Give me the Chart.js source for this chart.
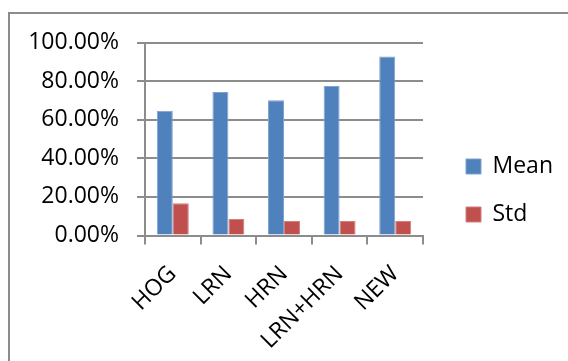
<!DOCTYPE html>
<html>
<head>
<meta charset="utf-8">
<script src="https://cdn.jsdelivr.net/npm/chart.js@4.4.1/dist/chart.umd.min.js"></script>
<style>
  html, body { margin: 0; padding: 0; width: 568px; height: 361px; overflow: hidden; background: #fff; }
  #frame { position: absolute; left: 8px; top: 12px; width: 700px; height: 500px; border: 2px solid #8c8c8c; }
  #wrap { position: absolute; left: 0; top: 0; width: 568px; height: 361px; }
</style>
</head>
<body>
<div id="frame"></div>
<div id="wrap"><canvas id="chart" width="568" height="361"></canvas></div>
<script>
// Detection rate per method (percent)
const categories = ['HOG', 'LRN', 'HRN', 'LRN+HRN', 'NEW'];
const meanValues = [64.6, 74.4, 70.1, 77.4, 92.7];
const stdValues  = [16.7, 8.6, 7.5, 7.5, 7.5];
const seriesNames = ['Mean', 'Std'];

const FONT = { family: "'Open Sans', sans-serif", size: 23 };
const GRID = '#8c8c8c';

// empty spacer axes that only reserve room around the plot
const spacer = (position, size) => ({
  type: 'linear', position, display: true,
  grid: { display: false, drawTicks: false },
  border: { display: false },
  ticks: { display: false },
  afterFit(s) { if (s.isHorizontal()) s.height = size; else s.width = size; }
});

new Chart(document.getElementById('chart'), {
  type: 'bar',
  data: {
    labels: categories,
    datasets: [
      { label: seriesNames[0], data: meanValues, backgroundColor: '#4f81bd',
        borderColor: '#7ea2d2', borderWidth: 1, borderSkipped: 'bottom' },
      { label: seriesNames[1], data: stdValues, backgroundColor: '#c0504d',
        borderColor: '#d27f7d', borderWidth: 1, borderSkipped: 'bottom' }
    ]
  },
  options: {
    responsive: false,
    animation: false,
    devicePixelRatio: 1,
    layout: { padding: { left: 0, top: 0, right: 5, bottom: 0 } },
    datasets: { bar: { categoryPercentage: 0.575, barPercentage: 1 } },
    plugins: {
      tooltip: { enabled: false },
      legend: {
        position: 'right',
        fullSize: true,
        align: 'center',
        maxWidth: 160,
        title: { display: true, text: ' ', font: { size: 10, lineHeight: 1.2 }, padding: 4 },
        labels: { boxWidth: 15, boxHeight: 15, padding: 25, font: FONT, color: '#000' }
      }
    },
    scales: {
      x: {
        offset: true,
        grid: { display: true, drawOnChartArea: false, drawTicks: true, tickLength: 9, color: GRID, lineWidth: 2, offset: true },
        border: { display: true, color: GRID, width: 2 },
        ticks: { font: FONT, color: '#000', minRotation: 45, maxRotation: 45, padding: 16, autoSkip: false },
        afterFit(s) { s.height = 125.5; }
      },
      y: {
        min: 0, max: 100,
        grid: { color: GRID, lineWidth: 2, tickLength: 8 },
        border: { display: true, color: GRID, width: 2 },
        ticks: { stepSize: 20, font: FONT, color: '#000', padding: 18,
                 callback: v => v.toFixed(2) + '%' },
        afterFit(s) { s.width = 145; }
      },
      topGap: spacer('top', 42.5),
      rightGap: spacer('right', 18)
    }
  }
});
</script>
</body>
</html>
